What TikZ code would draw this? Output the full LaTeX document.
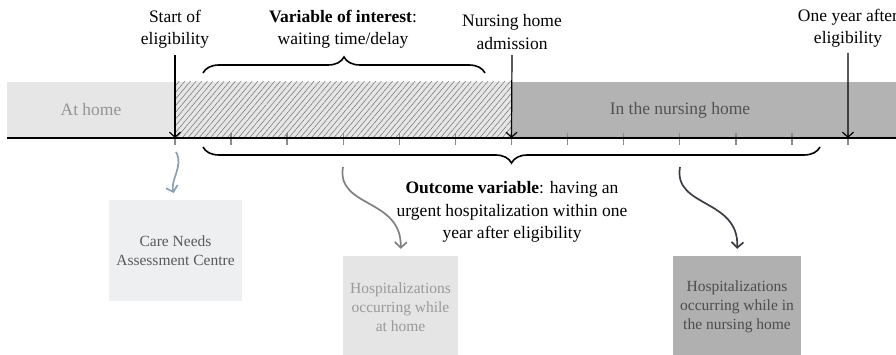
\documentclass[tikz,border=0pt]{standalone}
\usepackage{fontspec}
\setmainfont{Liberation Serif}
\usetikzlibrary{patterns.meta,decorations.pathreplacing,arrows.meta}
\definecolor{homegray}{HTML}{E6E6E6}
\definecolor{nhgray}{HTML}{B3B3B3}
\definecolor{hatchgray}{HTML}{707070}
\definecolor{tickgray}{HTML}{8C8C8C}
\definecolor{bluearr}{HTML}{8CA0B3}
\definecolor{grayarr}{HTML}{808080}
\definecolor{darkarr}{HTML}{3C3C44}
\definecolor{cnbox}{HTML}{EEEFF1}
\definecolor{hhbox}{HTML}{E5E5E5}
\definecolor{nhbox}{HTML}{B0B0B0}
\begin{document}
\begin{tikzpicture}[x=1pt,y=-1pt,
  bigtext/.style={font=\fontsize{17.5}{22.5}\selectfont,align=center,inner sep=0pt},
  boxtext/.style={font=\fontsize{15.5}{19}\selectfont,align=center,inner sep=0pt},
  downarrow/.style={line width=1.2pt,-{Straight Barb[length=5pt,width=11pt,line width=1.2pt]}},
  curvyarrow/.style={line width=1.7pt,-{Straight Barb[length=5.5pt,width=12pt,line width=1.7pt]},shorten >=7pt},
  tickmark/.style={tickgray,line width=1.4pt},
  bracestyle/.style={line width=1.6pt,decorate,decoration={brace,amplitude=16pt}}
]
\useasboundingbox (0,0) rectangle (896,355);

% bands
\fill[homegray] (7,82) rectangle (175,138);
\fill[homegray] (175,82) rectangle (512,138);
\fill[pattern={Lines[angle=50,distance=4.3pt,line width=0.5pt]},pattern color=hatchgray] (175,82) rectangle (512,138);
\fill[nhgray] (512,82) rectangle (900,138);

\node[bigtext,text=black!42] (athome) at (91,110) {At home};
\node[bigtext,text=black!68] (innh) at (680,110) {In the nursing home};

% ticks
\foreach \i in {0,...,12}{
  \coordinate (t\i) at ({175+56.08*\i},138);
  \draw[tickmark] ({175+56.08*\i},133) -- ({175+56.08*\i},145);
}
% timeline
\draw[line width=1.9pt] (7,138) -- (900,138);

% top labels
\node[bigtext] (start) at (175,29) {Start of\\eligibility};
\node[bigtext] (voi) at (343,29) {\textbf{Variable of interest}:\\waiting time/delay};
\node[bigtext] (nha) at (512,32) {Nursing home\\admission};
\node[bigtext] (oneyear) at (848,28) {One year after\\eligibility};

\coordinate (sa) at (175,55);
\coordinate (na) at (512,55);
\coordinate (oa) at (848,53);
\draw[downarrow] (sa) -- (t0);
\draw[downarrow] (na) -- (t6);
\draw[downarrow] (oa) -- (t12);

% braces
\coordinate (b1l) at (203,73);
\coordinate (b1r) at (485,73);
\draw[bracestyle] (b1l) -- (b1r);
\coordinate (b2l) at (203,147);
\coordinate (b2r) at (820,147);
\draw[bracestyle,decoration={mirror}] (b2l) -- (b2r);

\node[bigtext] (outcome) at (512,212) {\textbf{Outcome variable}: having an\\urgent hospitalization within one\\year after eligibility};

% boxes
\node[boxtext,fill=cnbox,text=black!65,minimum width=133pt,minimum height=101pt] (cn) at (175.5,250.5) {Care Needs\\Assessment Centre};
\node[boxtext,fill=hhbox,text=black!40,minimum width=115pt,minimum height=102pt] (hh) at (400.5,307) {Hospitalizations\\occurring while\\at home};
\node[boxtext,fill=nhbox,text=black!70,minimum width=128pt,minimum height=102pt] (nh) at (737,307) {Hospitalizations\\occurring while in\\the nursing home};

% curvy arrows
\coordinate (c1) at (176,152);
\coordinate (c2) at (343,167);
\coordinate (c3) at (680,167);
\draw[curvyarrow,bluearr] (c1) .. controls (184,166) and (170,180) .. (cn.north);
\draw[curvyarrow,grayarr] (c2) .. controls (336,208) and (402,198) .. (hh.north);
\draw[curvyarrow,darkarr] (c3) .. controls (673,208) and (739,198) .. (nh.north);
\end{tikzpicture}
\end{document}
